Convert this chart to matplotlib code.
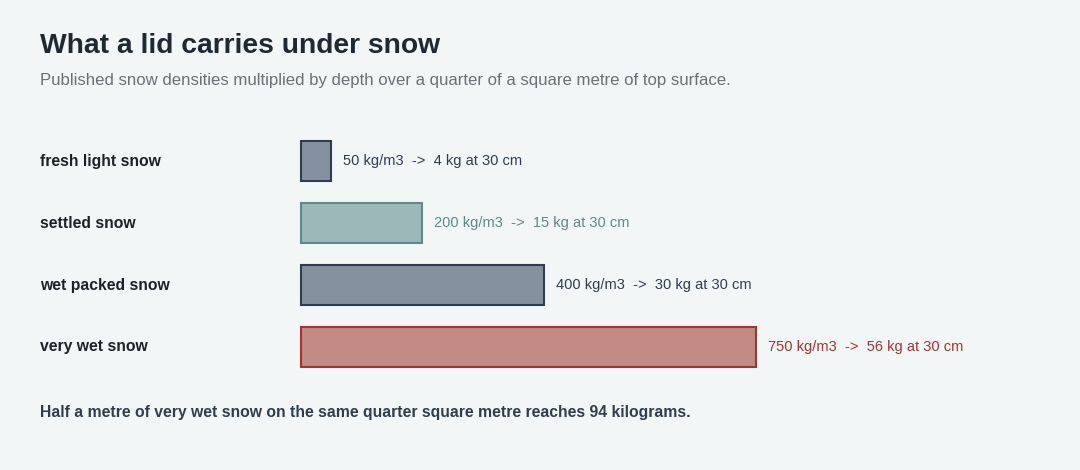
import matplotlib
matplotlib.use("Agg")
import matplotlib.pyplot as plt

plt.rcParams['font.family'] = ['Liberation Sans', 'DejaVu Sans']

# data
categories = ["fresh light snow", "settled snow", "wet packed snow", "very wet snow"]
densities = [50, 200, 400, 750]          # kg/m3
loads = [4, 15, 30, 56]                  # kg at 30 cm on 0.25 m2
depth_cm = 30

edge_cols = ["#2c3e50", "#5b8a8a", "#2c3e50", "#a5342e"]
fill_cols = ["#85919f", "#9db8b8", "#85919f", "#c48a84"]
text_cols = ["#2c3e50", "#5b8a8a", "#2c3e50", "#a5342e"]

bg = "#f3f6f7"
W, H = 1080, 470
fig = plt.figure(figsize=(W / 100, H / 100), dpi=100, facecolor=bg)

# axes placed in pixels: bars start at x=301, 750 kg/m3 -> 455 px
left, right, top, bottom = 301, 756, 130, 378
ax = fig.add_axes([left / W, 1 - bottom / H, (right - left) / W, (bottom - top) / H])
ax.set_facecolor("none")
ax.set_xlim(0, 750)
ax.set_ylim(len(categories) - 0.5, -0.5)
ax.axis("off")

ypos = list(range(len(categories)))
bars = ax.barh(ypos, densities, height=0.66, color=fill_cols, edgecolor=edge_cols, linewidth=1.5)
for b in bars:
    b.set_clip_on(False)

for y, cat, d, kg, tc in zip(ypos, categories, densities, loads, text_cols):
    ax.annotate(f"{d} kg/m3  ->  {kg} kg at {depth_cm} cm", xy=(d, y), xytext=(12, 0),
                textcoords="offset pixels", va="center", ha="left", fontsize=10.5, color=tc,
                annotation_clip=False)
    ax.annotate(cat, xy=(0, y), xytext=(40 - left, 0), textcoords="offset pixels",
                va="center", ha="left", fontsize=11.3, fontweight="bold", color="#1b2228",
                annotation_clip=False)

fig.text(40 / W, 1 - 46 / H, "What a lid carries under snow", fontsize=20.3,
         fontweight="bold", color="#1e2a33", va="center", ha="left")
fig.text(40 / W, 1 - 81 / H,
         "Published snow densities multiplied by depth over a quarter of a square metre of top surface.",
         fontsize=12.1, color="#6b7075", va="center", ha="left")
fig.text(40 / W, 1 - 413 / H,
         "Half a metre of very wet snow on the same quarter square metre reaches 94 kilograms.",
         fontsize=11.35, fontweight="bold", color="#2c3e50", va="center", ha="left")

fig.savefig("out.png", dpi=100, facecolor=bg)
